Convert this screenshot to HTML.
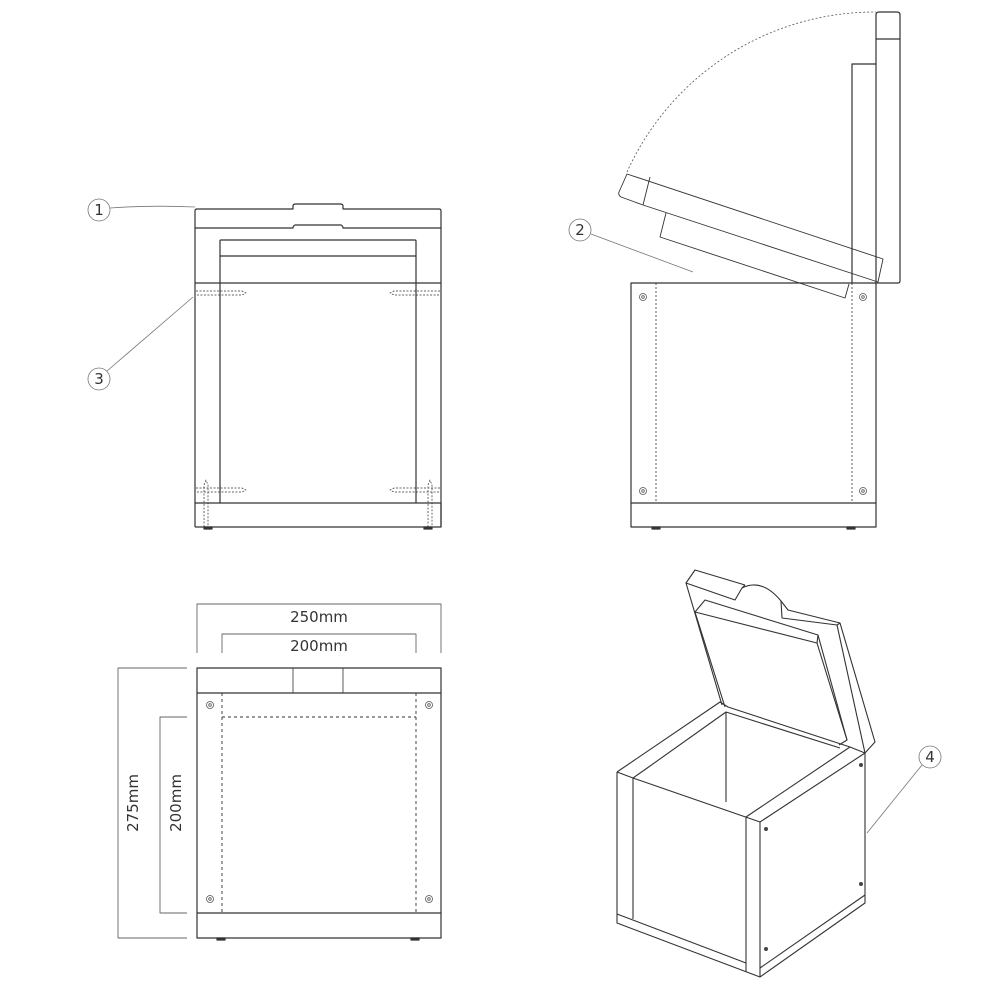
<!DOCTYPE html>
<html><head><meta charset="utf-8"><style>
html,body{margin:0;padding:0;background:#fff}
svg{display:block}
text{font-family:"DejaVu Sans","Liberation Sans",sans-serif;fill:#333}
</style></head><body>
<svg width="1000" height="1000" viewBox="0 0 1000 1000" xmlns="http://www.w3.org/2000/svg">
<g fill="none" stroke="#333" stroke-width="1.2" stroke-linejoin="round">
<!-- TOP LEFT VIEW -->
<path d="M195,228 V211 Q195,209 197,209 H293 V206 Q293,204 296,204 H340 Q343,204 343,206 V209 H439 Q441,209 441,211 V228 H343 Q343,226 341,225 H295 Q293,226 293,228 Z"/>
<line x1="195" y1="228" x2="195" y2="527"/>
<line x1="441" y1="228" x2="441" y2="527"/>
<path d="M220,503 V241 Q220,240 221,240 H415 Q416,240 416,241 V503"/>
<line x1="220" y1="256" x2="416" y2="256"/>
<line x1="195" y1="283" x2="441" y2="283"/>
<path d="M195,503 H441 V527 H195"/>
<g stroke-width="0.7" stroke-dasharray="2,1.5">
<path d="M196,291 H242 L246,293 L242,295 H196"/>
<path d="M440,291 H394 L390,293 L394,295 H440"/>
<path d="M196,488 H242 L246,490 L242,492 H196"/>
<path d="M440,488 H394 L390,490 L394,492 H440"/>
<path d="M204,527 V485 L206,480 L208,485 V527"/>
<path d="M428,527 V485 L430,480 L432,485 V527"/>
</g>
<rect x="204" y="527" width="8" height="2" fill="#333"/>
<rect x="424" y="527" width="8" height="2" fill="#333"/>

<!-- TOP RIGHT VIEW -->
<rect x="631" y="283" width="245" height="244"/>
<line x1="631" y1="503" x2="876" y2="503"/>
<g stroke-width="0.8" stroke-dasharray="2,2">
<line x1="656" y1="283" x2="656" y2="503"/>
<line x1="852" y1="283" x2="852" y2="503"/>
<path d="M627,172 A272,272 0 0 1 876,12" stroke="#555"/>
</g>
<rect x="652" y="527" width="8" height="2" fill="#333"/>
<rect x="847" y="527" width="8" height="2" fill="#333"/>
<path d="M876,283 V15 Q876,12 879,12 H897 Q900,12 900,15 V281 Q900,283 898,283 Z"/>
<line x1="876" y1="39" x2="900" y2="39"/>
<path d="M852,283 V64 H876"/>
<g stroke-width="0.9">
<path d="M627,174 L883,259 L878,282 L643,205 L621,197 Q618,195 619,192 Z"/>
<line x1="650" y1="177" x2="643" y2="205"/>
<path d="M666,213 L660,237 L845,298 L849,284"/>
</g>
<g stroke-width="0.8" stroke="#555">
<circle cx="643" cy="297" r="3.5"/><circle cx="643" cy="297" r="1.3"/>
<circle cx="863" cy="297" r="3.5"/><circle cx="863" cy="297" r="1.3"/>
<circle cx="643" cy="491" r="3.5"/><circle cx="643" cy="491" r="1.3"/>
<circle cx="863" cy="491" r="3.5"/><circle cx="863" cy="491" r="1.3"/>
</g>

<!-- BOTTOM LEFT VIEW -->
<rect x="197" y="668" width="244" height="270"/>
<line x1="197" y1="693" x2="441" y2="693"/>
<line x1="197" y1="913" x2="441" y2="913"/>
<line x1="293" y1="668" x2="293" y2="693" stroke-width="0.8"/>
<line x1="343" y1="668" x2="343" y2="693" stroke-width="0.8"/>
<g stroke-width="0.9" stroke-dasharray="3,3">
<line x1="222" y1="693" x2="222" y2="913"/>
<line x1="416" y1="693" x2="416" y2="913"/>
<line x1="222" y1="717" x2="416" y2="717"/>
</g>
<rect x="217" y="938" width="8" height="2" fill="#333"/>
<rect x="411" y="938" width="8" height="2" fill="#333"/>
<g stroke-width="0.8" stroke="#555">
<circle cx="210" cy="705" r="3.5"/><circle cx="210" cy="705" r="1.3"/>
<circle cx="429" cy="705" r="3.5"/><circle cx="429" cy="705" r="1.3"/>
<circle cx="210" cy="899" r="3.5"/><circle cx="210" cy="899" r="1.3"/>
<circle cx="429" cy="899" r="3.5"/><circle cx="429" cy="899" r="1.3"/>
</g>
<g stroke="#666" stroke-width="0.9">
<path d="M197,653 V604 H441 V653"/>
<path d="M222,653 V634 H416 V653"/>
<path d="M187,668 H118 V938 H187"/>
<path d="M187,717 H160 V913 H187"/>
</g>

<!-- ISOMETRIC -->
<g stroke-width="1.1">
<path d="M617,772 L617,923 L760,977 L865,903 L865,753"/>
<path d="M617,772 L633,778 L760,822 L760,977"/>
<line x1="633" y1="778" x2="633" y2="919"/>
<line x1="746" y1="817" x2="746" y2="972"/>
<line x1="760" y1="822" x2="865" y2="753"/>
<line x1="617" y1="914" x2="746" y2="963"/>
<line x1="760" y1="968" x2="865" y2="895"/>
<path d="M617,772 L720,702 L728,707 L850,747 L865,753"/>
<path d="M643,771 L726,712 L840,748"/>
<line x1="633" y1="778" x2="643" y2="771"/>
<line x1="746" y1="817" x2="850" y2="747"/>
<line x1="726" y1="712" x2="726" y2="802"/>
<!-- lid outer -->
<path d="M722,705 L686,583 L735,600 L742,588 Q762,578 781,601 L782,618 L837,625 L865,753"/>
<path d="M686,583 L695,570 L745,585"/>
<path d="M742,588 L745,585"/>
<path d="M837,625 L840,623 L875,742 L865,753"/>
<path d="M781,601 L788,610 L840,623"/>
<!-- lid inner -->
<path d="M725,707 L695,612 L817,643 L847,740 L839,745"/>
<path d="M695,612 L705,600 L818,635 L817,643"/>
<line x1="818" y1="635" x2="847" y2="740"/>
</g>
<g fill="#444" stroke="none">
<circle cx="766" cy="829" r="2"/><circle cx="861" cy="765" r="2"/>
<circle cx="766" cy="949" r="2"/><circle cx="861" cy="884" r="2"/>
</g>

<!-- callouts -->
<g stroke="#777" stroke-width="0.8">
<circle cx="99" cy="210" r="11"/><path d="M110,208 Q150,205 195,207"/>
<circle cx="99" cy="379" r="11"/><line x1="107" y1="371" x2="193" y2="297"/>
<circle cx="580" cy="230" r="11"/><line x1="591" y1="234" x2="693" y2="272"/>
<circle cx="930" cy="757" r="11"/><line x1="922" y1="765" x2="867" y2="833"/>
</g>
</g>
<g font-size="15" text-anchor="middle">
<text x="99" y="215">1</text>
<text x="99" y="384">3</text>
<text x="580" y="235">2</text>
<text x="930" y="762">4</text>
<text x="319" y="622">250mm</text>
<text x="319" y="651">200mm</text>
<text transform="translate(138,803) rotate(-90)">275mm</text>
<text transform="translate(181,803) rotate(-90)">200mm</text>
</g>
</svg>
</body></html>
